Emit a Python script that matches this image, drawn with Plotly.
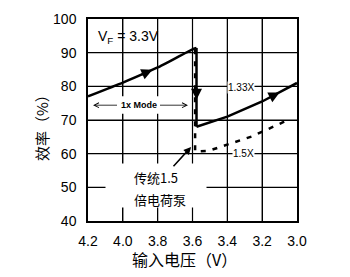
import plotly.graph_objects as go

# ---- data ----
x_1x = [4.2, 4.0, 3.8, 3.6, 3.577]
y_1x = [77.0, 81.1, 85.6, 91.0, 91.4]

x_drop = [3.577, 3.577]
y_drop = [91.4, 68.0]

x_133 = [3.577, 3.4, 3.2, 3.0]
y_133 = [68.0, 71.0, 75.5, 81.0]

x_15 = [3.585, 3.585, 3.51, 3.26, 3.06]
y_15 = [91.0, 60.6, 60.8, 65.1, 69.8]

x_ticks = [4.2, 4.0, 3.8, 3.6, 3.4, 3.2, 3.0]
y_ticks = [40, 50, 60, 70, 80, 90, 100]

LAT = "Liberation Sans, Arial, sans-serif"
CJK = "Noto Sans CJK SC, sans-serif"

fig = go.Figure()

# grid lines as line traces at the tick positions
gx, gy = [], []
for v in x_ticks[1:-1]:
    gx += [v, v, None]
    gy += [y_ticks[0], y_ticks[-1], None]
for v in y_ticks[1:-1]:
    gx += [x_ticks[0], x_ticks[-1], None]
    gy += [v, v, None]
fig.add_trace(go.Scatter(x=gx, y=gy, mode="lines", line=dict(color="black", width=1.2),
                         hoverinfo="skip", connectgaps=False))

fig.add_trace(go.Scatter(x=x_1x, y=y_1x, mode="lines", line=dict(color="black", width=2.5, shape="spline", smoothing=0.4)))
fig.add_trace(go.Scatter(x=x_drop, y=y_drop, mode="lines", line=dict(color="black", width=2.5)))
fig.add_trace(go.Scatter(x=x_133, y=y_133, mode="lines", line=dict(color="black", width=2.5)))
fig.add_trace(go.Scatter(x=x_15, y=y_15, mode="lines", line=dict(color="black", width=2.5, dash="5px,7px")))

fig.update_layout(
    template="none",
    width=350, height=277,
    margin=dict(l=88, r=53, t=19, b=56),
    plot_bgcolor="white", paper_bgcolor="white",
    showlegend=False,
    font=dict(family=LAT, size=14, color="black"),
    xaxis=dict(range=[4.2, 3.0], tickmode="array", tickvals=x_ticks,
               ticktext=[f"{v:.1f}" for v in x_ticks],
               showgrid=True, gridcolor="black", gridwidth=1.2, showline=True, linecolor="black",
               linewidth=1.5, mirror=True, ticks="outside", ticklen=6, tickcolor="rgba(0,0,0,0)",
               zeroline=False, tickfont=dict(family=LAT, size=14)),
    yaxis=dict(range=[40, 100], tickmode="array", tickvals=y_ticks, showgrid=True,
               gridcolor="black", gridwidth=1.2,
               showline=True, linecolor="black", linewidth=1.5, mirror=True,
               ticks="outside", ticklen=7, tickcolor="rgba(0,0,0,0)",
               zeroline=False, tickfont=dict(family=LAT, size=14)),
)

ann = []
# white box behind the Chinese label
ann.append(dict(x=3.81, y=50.6, xref="x", yref="y", text=" ", showarrow=False,
                width=100, height=43, bgcolor="white", borderpad=0, font=dict(size=10)))
ann.append(dict(x=4.154, y=94.8, xref="x", yref="y", text="V<sub>F</sub> = 3.3V", showarrow=False,
                xanchor="left", font=dict(family=LAT, size=14)))
# 1x Mode double arrow
for head in (4.171, 3.626):
    ann.append(dict(x=head, y=74.4, ax=3.91, ay=74.4, xref="x", yref="y", axref="x", ayref="y",
                    text="<b>1x Mode</b>", showarrow=True, arrowhead=5, arrowwidth=0.8, arrowsize=1.2,
                    arrowcolor="black", bgcolor="white", borderpad=3, font=dict(family=LAT, size=9)))
ann.append(dict(x=3.319, y=79.8, xref="x", yref="y", text="1.33X", showarrow=False,
                bgcolor="white", borderpad=0, font=dict(family=LAT, size=10)))
ann.append(dict(x=3.305, y=60, xref="x", yref="y", text="1.5X", showarrow=False,
                bgcolor="white", borderpad=0, font=dict(family=LAT, size=10)))
ann.append(dict(x=3.947, y=52.8, xref="x", yref="y", text="传统1.5", showarrow=False,
                xanchor="left", font=dict(family=CJK, size=13)))
ann.append(dict(x=3.947, y=46.3, xref="x", yref="y", text="倍电荷泵", showarrow=False,
                xanchor="left", font=dict(family=CJK, size=13)))
ann.append(dict(x=3.608, y=62, ax=3.717, ay=55.8, xref="x", yref="y", axref="x", ayref="y",
                text="", showarrow=True, arrowhead=2, arrowwidth=1.5, arrowsize=1, arrowcolor="black"))
# arrows on the curves
for (hx, hy, tx, ty) in [(3.83, 84.9, 3.9, 83.3), (3.577, 76.0, 3.577, 80.0), (3.1, 78.2, 3.16, 76.6)]:
    ann.append(dict(x=hx, y=hy, ax=tx, ay=ty, xref="x", yref="y", axref="x", ayref="y",
                    text="", showarrow=True, arrowhead=2, arrowwidth=2.2, arrowsize=1, arrowcolor="black"))
# axis titles
ann.append(dict(x=(184 - 88) / 209, y=(221 - 259) / 202, xref="paper", yref="paper",
                xanchor="center", yanchor="middle",
                text="输入电压（V）", showarrow=False, font=dict(family=CJK, size=16)))
ann.append(dict(x=(41 - 88) / 209, y=(221 - 124) / 202, xref="paper", yref="paper",
                xanchor="center", yanchor="middle",
                text="效率（%）", textangle=-90, showarrow=False, font=dict(family=CJK, size=15)))
fig.update_layout(annotations=ann)

fig.write_html("out.html")
